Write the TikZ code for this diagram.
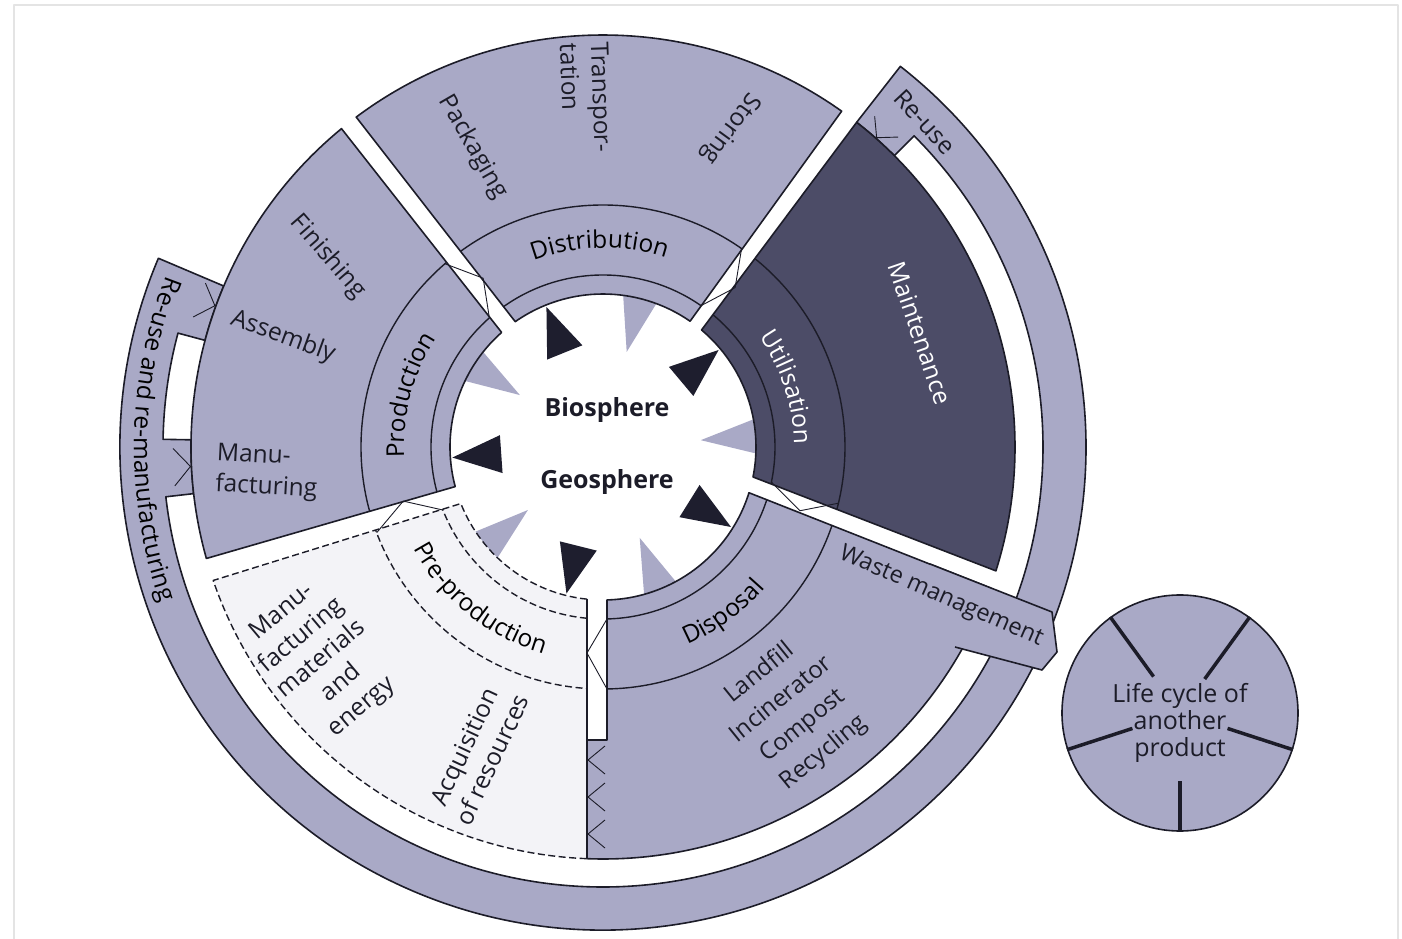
\documentclass[tikz,border=0pt]{standalone}
\usepackage{fontspec}
\setmainfont{Open Sans}
\usetikzlibrary{decorations.text,calc}

\definecolor{secfill}{HTML}{A9A9C6}
\definecolor{usefill}{HTML}{4C4C67}
\definecolor{prefill}{HTML}{F3F3F7}
\definecolor{inkline}{HTML}{1C1C28}
\definecolor{tridark}{HTML}{1E1E2E}
\definecolor{trilight}{HTML}{A9A9C6}
\definecolor{framegrey}{HTML}{E4E4E4}

\newcommand{\lblfont}{\fontsize{24.5}{31}\selectfont}
% radii of the wheel: inner disc, band lines, sector rim, outer ring
\def\Rin{153}\def\Rband{172}\def\Rlab{242}\def\Rsec{412}
\def\Rring{440}\def\Rout{483}

% sector between two straight edges; #2/#3 = inner/outer angle of the first edge,
% #4/#5 = inner/outer angle of the second edge (counter-clockwise)
\newcommand{\sectorpath}[5]{%
  \path[#1] (#2:\Rin) arc[start angle=#2, end angle=#4, radius=\Rin]
    -- (#5:\Rsec) arc[start angle=#5, end angle=#3, radius=\Rsec] -- cycle;}

\begin{document}
\begin{tikzpicture}[x=1pt,y=1pt,line join=round,
  lbl/.style={font=\lblfont, inner sep=0pt, text=inkline},
  outline/.style={draw=inkline, line width=1.6pt},
  bandline/.style={draw=inkline, line width=1.4pt},
  dashline/.style={draw=inkline, line width=1.4pt, dash pattern=on 7pt off 3.5pt},
  link/.style={draw=inkline, line width=0.9pt},
  arclabel/.style={decorate, decoration={text along path, text align=center, text={|\lblfont|#1}}},
]
\useasboundingbox (-603,-492) rectangle (799,447);
\draw[framegrey, line width=2pt] (-589,-530) -- (-589,442) -- (795,442) -- (795,-530);

% ---------- outer ring: re-use and re-manufacturing ----------
\path[fill=secfill, outline]
  (157:\Rout) arc[start angle=157, end angle=412, radius=\Rout]
  -- (412:\Rsec) arc[start angle=412, end angle=405, radius=\Rsec]
  -- (405:\Rring) arc[start angle=405, end angle=186.5, radius=\Rring]
  -- (186.5:\Rsec) arc[start angle=186.5, end angle=179, radius=\Rsec]
  -- (179:\Rring) arc[start angle=179, end angle=165, radius=\Rring]
  -- (165:\Rsec) arc[start angle=165, end angle=157, radius=\Rsec] -- cycle;
\path[arclabel={Re-use and re-manufacturing}] (146:469) arc[start angle=146, end angle=212, radius=469];

% ---------- centre arrows ----------
\foreach \a in {112,40,-32,-104,-176}
  \fill[tridark, rotate=\a] (151,0) -- (102,19) -- (102,-19) -- cycle;
\foreach \a in {76,4,-68,-140,148}
  \fill[trilight, rotate=\a] (158,-19) -- (158,19) -- (98,0) -- cycle;

% ---------- production ----------
\sectorpath{fill=secfill}{131.5}{129.4}{195.0}{195.7}
\begin{scope}
  \sectorpath{clip}{131.5}{129.4}{195.0}{195.7}
  \draw[bandline] (0,0) circle[radius=\Rband] (0,0) circle[radius=\Rlab];
\end{scope}
\sectorpath{outline}{131.5}{129.4}{195.0}{195.7}

% ---------- distribution ----------
\sectorpath{fill=secfill}{55.3}{54.6}{125.0}{126.8}
\begin{scope}
  \sectorpath{clip}{55.3}{54.6}{125.0}{126.8}
  \draw[bandline] (0,0) circle[radius=\Rband] (0,0) circle[radius=\Rlab];
\end{scope}
\sectorpath{outline}{55.3}{54.6}{125.0}{126.8}

% ---------- utilisation ----------
\sectorpath{fill=usefill}{-11.3}{-17.5}{49.9}{52.0}
\begin{scope}
  \sectorpath{clip}{-11.3}{-17.5}{49.9}{52.0}
  \draw[bandline] (0,0) circle[radius=\Rband] (0,0) circle[radius=\Rlab];
\end{scope}
\sectorpath{outline}{-11.3}{-17.5}{49.9}{52.0}

% ---------- pre-production ----------
\path[fill=prefill] (201.7:\Rin) arc[start angle=201.7, end angle=264, radius=\Rin]
  -- (267.77:\Rsec) arc[start angle=267.77, end angle=198.9, radius=\Rsec] -- cycle;
\begin{scope}
  \clip (201.7:\Rin) arc[start angle=201.7, end angle=264, radius=\Rin]
    -- (267.77:\Rsec) arc[start angle=267.77, end angle=198.9, radius=\Rsec] -- cycle;
  \draw[dashline] (0,0) circle[radius=\Rband] (0,0) circle[radius=\Rlab];
\end{scope}
\draw[dashline] (264:\Rin) arc[start angle=264, end angle=201.7, radius=\Rin]
  -- (198.9:\Rsec) arc[start angle=198.9, end angle=267.77, radius=\Rsec];
\draw[outline] (264:\Rin) -- (267.77:\Rsec);

% ---------- disposal ----------
\path[fill=secfill] (-88.5:\Rin) arc[start angle=-88.5, end angle=-17.4, radius=\Rin]
  -- (-20:\Rsec) arc[start angle=-20, end angle=-92.23, radius=\Rsec]
  -- (-16,-293) -- (4,-293) -- cycle;
\begin{scope}
  \clip (-88.5:\Rin) arc[start angle=-88.5, end angle=-17.4, radius=\Rin]
    -- (-20:\Rsec) arc[start angle=-20, end angle=-92.23, radius=\Rsec]
    -- (-16,-293) -- (4,-293) -- cycle;
  \draw[bandline] (0,0) circle[radius=\Rband] (0,0) circle[radius=\Rlab];
\end{scope}
\draw[outline] (-88.5:\Rin) arc[start angle=-88.5, end angle=-17.4, radius=\Rin]
  -- (-20:\Rsec) arc[start angle=-20, end angle=-92.23, radius=\Rsec]
  -- (-16,-293) -- (4,-293) -- cycle;

% waste management tab leading out of the disposal sector
\fill[secfill] (327,-117) -- (449,-165) -- (454,-205) -- (439,-223) -- (352,-200) -- (330,-190) -- cycle;
\draw[outline] (327,-117) -- (449,-165) -- (454,-205) -- (439,-223) -- (352,-200);

% ---------- flow marks across the gaps ----------
\draw[link] (131.35:\Rband) -- (125.37:207) -- (130.78:\Rlab);
\draw[link] (55.25:\Rband) -- (50.34:207) -- (55.06:\Rlab);
\draw[link] (-11.75:\Rband) -- (-17.94:207) -- (-13.43:\Rlab);
\draw[link] (4,-172) -- (-16,-206) -- (4,-242);
\draw[link] (201.5:\Rband) -- (195.15:207) -- (200.74:\Rlab);
% return marks on the ring bridges and the recycling edge
\draw[link] (50.6:428) -- (48.5:413) -- (46.4:428);
\draw[link] (157.6:430) -- (160:413) -- (162.4:430);
\draw[link] (180.2:430) -- (182.7:413) -- (185.2:430);
\foreach \v in {-313,-350,-387}
  \draw[link] (2,\v+14) -- (-15,\v) -- (2,\v-14);

% ---------- curved band labels ----------
\path[arclabel={Distribution}] (128:199) arc[start angle=128, end angle=54, radius=199];
\path[arclabel={Production}] (198:199) arc[start angle=198, end angle=132, radius=199];
\path[decorate, decoration={text along path, text align=center, text color=white,
  text={|\lblfont|Utilisation}}] (52:191) arc[start angle=52, end angle=-16, radius=191];
\path[arclabel={Disposal}] (-92:215) arc[start angle=-92, end angle=-16, radius=215];
\path[arclabel={Pre-production}] (196:215) arc[start angle=196, end angle=266, radius=215];

% ---------- stage labels ----------
\node[lbl, rotate=-60] (packaging) at (-130,300) {Packaging};
\node[lbl, rotate=-88, align=left] (transport) at (-17,349) {Transpor-\\tation};
\node[lbl, rotate=-126] (storing) at (127,319) {Storing};
\node[lbl, rotate=-49] (finishing) at (-275,190) {Finishing};
\node[lbl, rotate=-20] (assembly) at (-320,110) {Assembly};
\node[lbl, rotate=-3, align=left, anchor=west] (manufacturing) at (-387,-23) {Manu-\\facturing};
\node[lbl, rotate=40, align=center] (materials) at (-281,-213) {Manu-\\facturing\\materials\\and\\energy};
\node[lbl, rotate=65, align=center] (acquisition) at (-125,-306) {Acquisition\\of resources};
\node[lbl, rotate=39, align=center, font=\fontsize{24}{34}\selectfont] (endoflife) at (189,-266) {Landfill\\Incinerator\\Compost\\Recycling};
\node[lbl, rotate=-71, text=white] (maintenance) at (317,114) {Maintenance};
\node[lbl, rotate=-47] (reuse) at (322,325) {Re-use};
\node[lbl, rotate=-23.5, font=\fontsize{23.5}{28}\selectfont] (waste) at (338,-150) {Waste management};

% ---------- centre ----------
\node[font=\fontsize{25}{25}\selectfont\bfseries, text=inkline] (bio) at (4,37) {Biosphere};
\node[font=\fontsize{25}{25}\selectfont\bfseries, text=inkline] (geo) at (4,-35) {Geosphere};

% ---------- life cycle of another product ----------
\node[circle, fill=secfill, outline, minimum size=236pt, inner sep=0pt] (other) at (577,-266) {};
\foreach \a/\r in {126/45,54/42,198/50,-18/50,-90/68}
  \draw[inkline, line width=3.5pt] (other.\a) -- ($(other.center)+(\a:\r)$);
\node[lbl, align=center, font=\fontsize{25}{27}\selectfont] (othertext) at (577,-276) {Life cycle of\\another\\product};
\end{tikzpicture}
\end{document}
